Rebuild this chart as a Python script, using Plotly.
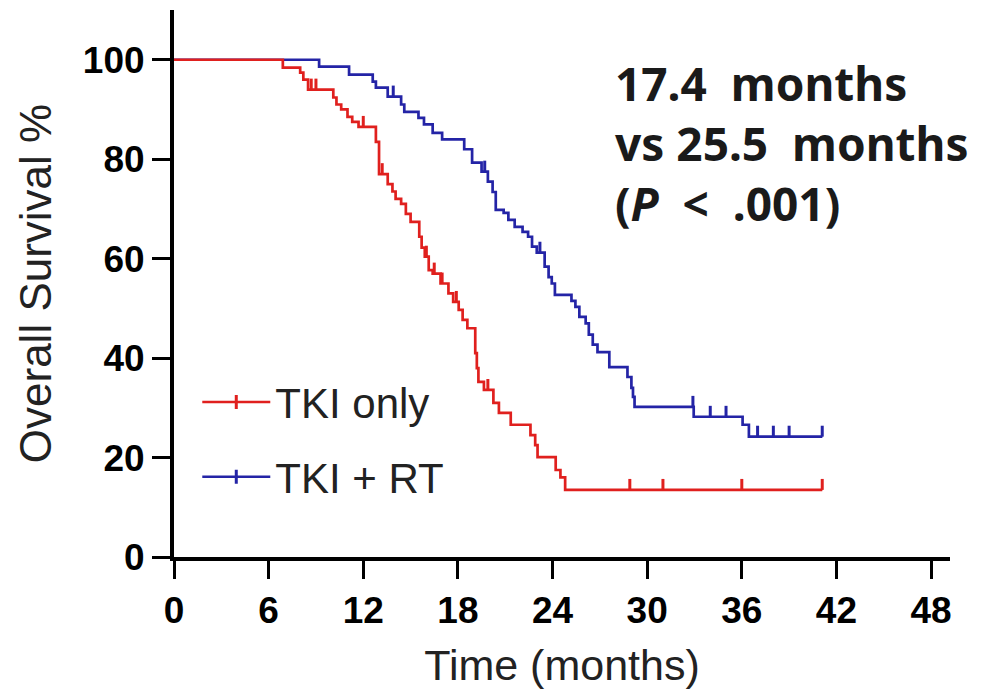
import numpy as np
import plotly.graph_objects as go

# Kaplan-Meier steps: event time (months) -> survival (%) after it
tki_t = [0, 6.9, 8.0, 8.2, 8.5, 10.1, 10.3, 10.6, 11.0, 11.3, 11.7, 12.8, 13.0,
         13.55, 13.85, 14.05, 14.4, 14.7, 15.0, 15.55, 15.7, 15.9, 16.15, 16.4,
         16.9, 17.4, 17.7, 18.05, 18.3, 18.6, 19.1, 19.2, 19.3, 19.65, 20.25,
         20.6, 21.35, 22.6, 22.9, 23.05, 24.2, 24.5, 24.8]
tki_s = [100, 98.4, 97.4, 96, 94, 92.4, 91, 90, 88.5, 87.5, 86.5, 83.5, 77,
         75, 73.5, 72, 71, 69, 67.4, 64.4, 62.2, 60.4, 57.7, 57,
         55, 53, 51.3, 49.7, 47.7, 46, 41, 38, 35.2, 33.6, 31,
         29, 26.6, 24.5, 22.5, 20.1, 17.5, 16, 13.5]
tki_censor = [8.7, 9.0, 12.0, 13.2, 16.0, 16.5, 17.0, 17.9, 19.9, 28.9, 31.0, 36.0, 41.1]
tki_end = 41.1

rt_t = [0, 9.2, 11.1, 12.6, 12.8, 13.55, 14.4, 14.6, 15.5, 15.85, 16.4, 17.0,
        18.4, 18.9, 19.5, 19.9, 20.2, 20.4, 20.9, 21.2, 21.6, 22.1, 22.45, 22.7,
        23.0, 23.5, 23.75, 23.95, 24.15, 25.2, 25.45, 25.7, 26.1, 26.3, 26.55,
        26.85, 27.6, 28.75, 29.0, 29.1, 29.2, 32.95, 36.05, 36.45]
rt_s = [100, 98.6, 97, 95.6, 94.4, 92.6, 91, 89.5, 88.3, 87, 85.3, 84,
        82, 79.3, 77.5, 75.5, 73.4, 69.8, 69.2, 67.8, 66.4, 65.4, 64.4, 62.4,
        61.2, 58.4, 56.3, 55, 52.7, 51.5, 50.3, 48.3, 47, 44.7, 42.7,
        41.2, 38.2, 36.2, 34, 32.2, 30.2, 28.2, 26.6, 24.2]
rt_censor = [13.9, 19.7, 23.2, 32.9, 34.0, 35.0, 37.0, 38.0, 39.0, 41.1]
rt_end = 41.1

x_ticks = [0, 6, 12, 18, 24, 30, 36, 42, 48]
y_ticks = [0, 20, 40, 60, 80, 100]

RED = "#E0201E"
BLUE = "#2424A6"
FONT = "Liberation Sans, Arial, sans-serif"


def surv_at(times, steps_t, steps_s):
    idx = np.searchsorted(steps_t, times, side="right") - 1
    return [steps_s[i] for i in idx]


fig = go.Figure()
for name, t, s, cens, end, color in (
        ("TKI + RT", rt_t, rt_s, rt_censor, rt_end, BLUE),
        ("TKI only", tki_t, tki_s, tki_censor, tki_end, RED)):
    fig.add_scatter(x=t + [end], y=s + [s[-1]], mode="lines", line_shape="hv",
                    line=dict(color=color, width=2.7), showlegend=False)
    cy = surv_at(cens, t, s)
    # censor marks: short upward ticks
    fig.add_scatter(x=cens, y=cy, mode="markers", marker=dict(size=1, color=color),
                    error_y=dict(type="data", symmetric=False, array=[2.2] * len(cens),
                                 arrayminus=[0] * len(cens), width=0, thickness=3,
                                 color=color),
                    showlegend=False, hoverinfo="skip")

# legend-only entries (line with a censor tick)
for name, color in (("TKI only", RED), ("TKI + RT", BLUE)):
    fig.add_scatter(x=[None], y=[None], name=name, mode="lines+markers",
                    line=dict(color=color, width=2.5),
                    marker=dict(symbol="line-ns", size=10,
                                line=dict(color=color, width=3)),
                    legendgroup=name)

fig.add_annotation(xref="paper", yref="paper", x=0.566, y=0.927,
                   xanchor="left", yanchor="top", align="left", showarrow=False,
                   text="17.4  months<br>vs 25.5  months<br>(<i>P</i>  <  .001)",
                   font=dict(family="Noto Sans", size=46, color="#1a1a1a", weight="bold"))

axis_common = dict(showline=True, linewidth=4, linecolor="black", ticks="outside",
                   ticklen=18, tickwidth=3, tickcolor="black", showgrid=False,
                   zeroline=False, mirror=False, automargin=False,
                   tickfont=dict(family=FONT, size=37, color="black", weight="bold"))

fig.update_layout(
    width=996, height=700,
    paper_bgcolor="white", plot_bgcolor="white",
    margin=dict(l=166, r=54, t=2, b=151),
    xaxis=dict(range=[0, 49.2], tickvals=x_ticks, title_text="Time (months)",
               title_standoff=20,
               title_font=dict(family=FONT, size=43, color="#222"), **axis_common),
    yaxis=dict(range=[0, 110], tickvals=y_ticks, title_text="Overall Survival %",
               title_standoff=18,
               title_font=dict(family=FONT, size=44, color="#222"), **axis_common),
    legend=dict(x=0.03, y=0.345, xanchor="left", yanchor="top",
                font=dict(family=FONT, size=42, color="#222"),
                itemwidth=68, traceorder="grouped", tracegroupgap=17,
                bgcolor="rgba(0,0,0,0)"),
)

fig.write_html("out.html")
